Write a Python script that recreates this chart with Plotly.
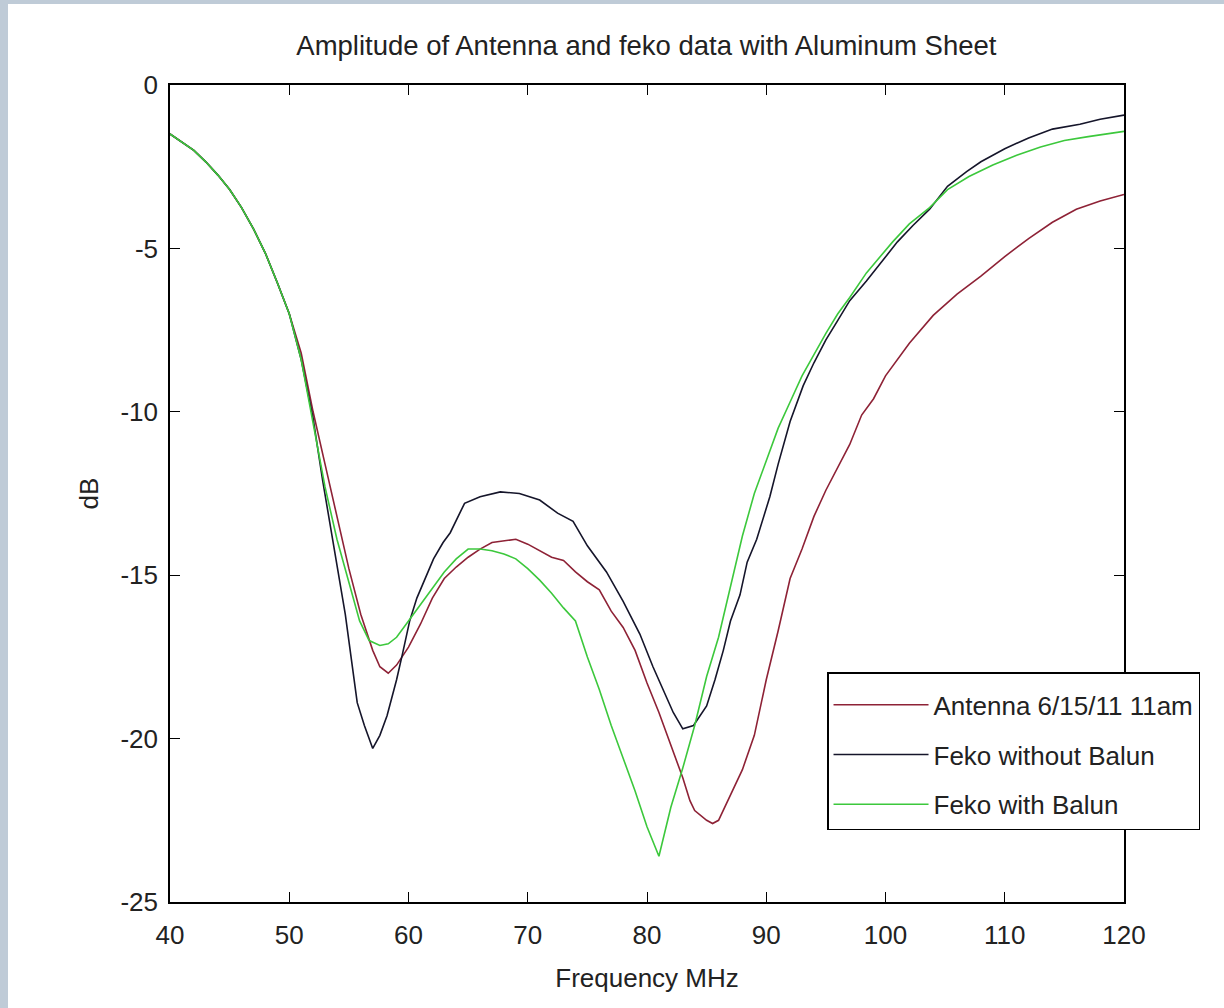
import plotly.graph_objects as go

# ---------------- data ----------------
freq_antenna = [40, 41, 42, 43, 44, 45, 46, 47, 48, 49, 50, 51, 52, 53, 54, 55, 56, 57,
                57.6, 58.3, 59, 60, 61, 62, 63, 64, 65, 66, 67, 68, 69, 70, 71, 72, 73, 74,
                75, 76, 77, 78, 79, 80, 81, 82, 83, 83.6, 84, 85, 85.5, 86, 87, 88, 89, 90,
                91, 92, 93, 94, 95, 96, 97, 98, 99, 100, 102, 104, 106, 108, 110, 112, 114,
                116, 118, 120]
db_antenna = [-1.5, -1.75, -2.0, -2.35, -2.75, -3.2, -3.75, -4.4, -5.15, -6.05, -7.0, -8.2,
              -10.0, -11.6, -13.2, -14.8, -16.2, -17.3,
              -17.8, -18.0, -17.75, -17.2, -16.5, -15.7, -15.1, -14.75, -14.45, -14.2, -14.0,
              -13.95, -13.9, -14.05, -14.25, -14.45, -14.55, -14.9,
              -15.2, -15.45, -16.1, -16.6, -17.3, -18.3, -19.2, -20.2, -21.2, -21.9, -22.2,
              -22.5, -22.6, -22.5, -21.75, -20.95, -19.9, -18.2,
              -16.7, -15.1, -14.2, -13.2, -12.4, -11.7, -11.0, -10.1, -9.6, -8.9, -7.9,
              -7.05, -6.4, -5.85, -5.25, -4.7, -4.2,
              -3.8, -3.55, -3.35]

freq_no_balun = [40, 41, 42, 43, 44, 45, 46, 47, 48, 49, 50, 51, 51.5, 52, 52.8, 53.7, 54.7,
                 55.7, 56.3, 57, 57.6, 58.2, 59, 59.5, 60.1, 60.7, 61.5, 62.1, 62.9, 63.5,
                 64.7, 66, 67.7, 69.3, 71, 72.5, 73.8, 75, 76.6, 78, 79.4, 80.5, 82.2, 83,
                 83.9, 85, 85.7, 86.4, 87, 87.8, 88.4, 89.2, 90.3, 91, 92, 93.1, 94, 95, 96,
                 97, 98.4, 99.5, 101, 102.3, 103.7, 105.2, 106.8, 108, 110, 112, 114, 116.3,
                 118, 120]
db_no_balun = [-1.5, -1.75, -2.0, -2.35, -2.75, -3.2, -3.75, -4.4, -5.15, -6.05, -7.0, -8.4,
               -9.3, -10.2, -12.1, -14.1, -16.2,
               -18.9, -19.6, -20.3, -19.9, -19.3, -18.2, -17.4, -16.4, -15.7, -15.0, -14.5,
               -14.0, -13.7,
               -12.8, -12.6, -12.45, -12.5, -12.7, -13.1, -13.35, -14.1, -14.9, -15.8, -16.8,
               -17.8, -19.2, -19.7,
               -19.6, -19.0, -18.2, -17.3, -16.4, -15.6, -14.6, -13.9, -12.6, -11.6, -10.3,
               -9.2, -8.5, -7.8, -7.2,
               -6.6, -6.0, -5.5, -4.8, -4.3, -3.8, -3.1, -2.65, -2.35, -1.95, -1.62, -1.35,
               -1.2, -1.05, -0.92]

freq_balun = [40, 41, 42, 43, 44, 45, 46, 47, 48, 49, 50, 51, 52, 53, 54, 55, 55.9, 56.7,
              57.6, 58.3, 59, 60, 61, 62, 63, 64, 65, 66, 67, 68, 69, 70, 71, 72, 73, 74,
              75, 76, 77, 78, 79, 80, 81, 82, 83, 84, 85, 86, 87, 88, 89, 90, 91, 92, 93,
              94, 95, 96, 97, 98.4, 100.6, 102, 103.7, 105.2, 107, 109, 111, 113, 115, 117,
              120]
db_balun = [-1.5, -1.75, -2.0, -2.35, -2.75, -3.2, -3.75, -4.4, -5.15, -6.05, -7.0, -8.4,
            -10.3, -12.3, -13.9, -15.2, -16.4, -17.0,
            -17.15, -17.1, -16.9, -16.4, -15.9, -15.4, -14.9, -14.5, -14.2, -14.2, -14.25,
            -14.35, -14.5, -14.8, -15.15, -15.55, -16.0, -16.4,
            -17.5, -18.5, -19.6, -20.6, -21.6, -22.7, -23.6, -22.1, -20.9, -19.6, -18.1,
            -16.9, -15.3, -13.8, -12.5, -11.5, -10.5, -9.7, -8.9,
            -8.25, -7.6, -7.0, -6.5, -5.75, -4.8, -4.25, -3.75, -3.2, -2.8, -2.45, -2.15,
            -1.9, -1.7, -1.58,
            -1.42]

series_names = ["Antenna 6/15/11 11am", "Feko without Balun", "Feko with Balun"]
x_ticks = [40, 50, 60, 70, 80, 90, 100, 110, 120]
y_ticks = [0, -5, -10, -15, -20, -25]
y_tick_text = ["0", "-5", "-10", "-15", "-20", "-25"]

# ---------------- figure ----------------
FONT = "Liberation Sans, Arial, Helvetica, sans-serif"
TXT = "#222222"
colors = ["#8e2236", "#15152a", "#3cc83c"]

fig = go.Figure()
for name, xs, ys, col, grp in zip(series_names,
                                  [freq_antenna, freq_no_balun, freq_balun],
                                  [db_antenna, db_no_balun, db_balun],
                                  colors, ["a", "b", "c"]):
    fig.add_trace(go.Scatter(x=xs, y=ys, mode="lines", name=name, legendgroup=grp,
                             line=dict(color=col, width=1.6)))

axis_common = dict(showline=True, linecolor="black", linewidth=1.6, mirror="ticks",
                   ticks="inside", ticklen=10, tickwidth=1.4, tickcolor="black",
                   showgrid=False, zeroline=False,
                   tickfont=dict(family=FONT, size=26, color=TXT))

fig.update_layout(
    width=1224, height=1008,
    margin=dict(l=170, r=100, t=85, b=106),
    paper_bgcolor="#bfcbd7",
    plot_bgcolor="white",
    title=dict(text="Amplitude of Antenna and feko data with Aluminum Sheet",
               font=dict(family=FONT, size=27.5, color=TXT),
               x=0.5281, xanchor="center", y=0.955, yanchor="middle"),
    xaxis=dict(range=[40, 120], tickvals=x_ticks, ticklabelstandoff=9,
               title=dict(text="Frequency MHz", font=dict(family=FONT, size=26, color=TXT),
                          standoff=20),
               **axis_common),
    yaxis=dict(range=[-25, 0], tickvals=y_ticks, ticktext=y_tick_text, ticklabelstandoff=5,
               title=dict(text="dB", font=dict(family=FONT, size=26, color=TXT),
                          standoff=14),
               **axis_common),
    legend=dict(x=0.6887, y=0.2815, xanchor="left", yanchor="top",
                bgcolor="white", bordercolor="black", borderwidth=1.5,
                font=dict(family=FONT, size=26, color=TXT),
                title=dict(text=" ", font=dict(size=6)),
                itemwidth=95, tracegroupgap=13),
    shapes=[dict(type="rect", xref="paper", yref="paper",
                 x0=-(170 - 8) / 954, x1=1 + 200 / 954,
                 y0=-(106 + 50) / 817, y1=1 + (85 - 4) / 817,
                 fillcolor="white", line=dict(width=0), layer="below")],
)

fig.write_html("out.html", config={"displayModeBar": False},
               post_script="document.body.style.margin='0';")
